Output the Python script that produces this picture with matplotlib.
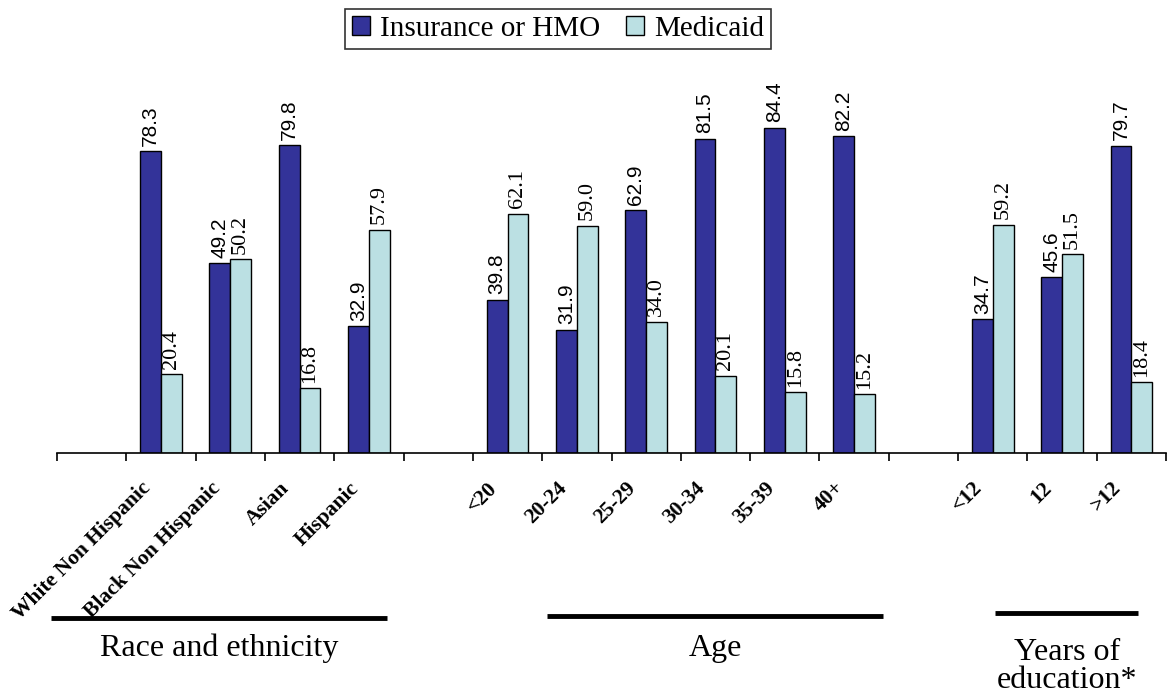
import matplotlib
matplotlib.use("Agg")
import matplotlib.pyplot as plt
import matplotlib.transforms as mtransforms
import numpy as np

# data (empty strings / None are the gaps between groups)
categories = ['', 'White Non Hispanic', 'Black Non Hispanic', 'Asian', 'Hispanic',
              '', '<20', '20-24', '25-29', '30-34', '35-39', '40+',
              '', '<12', '12', '>12']
insurance = [None, 78.3, 49.2, 79.8, 32.9, None, 39.8, 31.9, 62.9, 81.5, 84.4, 82.2,
             None, 34.7, 45.6, 79.7]
medicaid = [None, 20.4, 50.2, 16.8, 57.9, None, 62.1, 59.0, 34.0, 20.1, 15.8, 15.2,
            None, 59.2, 51.5, 18.4]
series_names = ['Insurance or HMO', 'Medicaid']
group_names = ['Race and ethnicity', 'Age', 'Years of\neducation*']

SERIF = 'Liberation Serif'
SANS = 'Liberation Sans'
dark = '#333399'
light = '#BBE0E3'

fig = plt.figure(figsize=(11.74, 6.94), dpi=100)
ax = fig.add_axes([57 / 1174, 1 - 453 / 694, 1109 / 1174, 347 / 694])

n = len(categories)
centers = np.arange(n) + 0.5
w = 0.3
idx = [i for i in range(n) if insurance[i] is not None]
ins_vals = [insurance[i] for i in idx]
med_vals = [medicaid[i] for i in idx]
xc = centers[idx]

b1 = ax.bar(xc - w / 2, ins_vals, w, color=dark, edgecolor='black', linewidth=1,
            label=series_names[0])
b2 = ax.bar(xc + w / 2, med_vals, w, color=light, edgecolor='black', linewidth=1,
            label=series_names[1])

# value labels
for x, v in zip(xc - w / 2, ins_vals):
    ax.annotate(f'{v:.1f}', (x, v), xytext=(0, 4), textcoords='offset points',
                rotation=90, ha='center', va='bottom', fontsize=15, family=SANS)
for x, v in zip(xc + w / 2, med_vals):
    ax.annotate(f'{v:.1f}', (x, v), xytext=(0, 4), textcoords='offset points',
                rotation=90, ha='center', va='bottom', fontsize=16, family=SERIF)

ax.set_xlim(0, n)
ax.set_ylim(0, 90)
for s in ['left', 'right', 'top']:
    ax.spines[s].set_visible(False)
ax.spines['bottom'].set_linewidth(1.2)
ax.set_yticks([])

# slot boundaries as minor ticks, labels at slot centres
ax.set_xticks(np.arange(n + 1), minor=True)
ax.tick_params(axis='x', which='minor', length=6, width=1.2, direction='out')
ax.set_xticks(centers)
ax.set_xticklabels(categories, rotation=45, ha='right', fontsize=15.5,
                   family=SERIF, fontweight='bold')
ax.tick_params(axis='x', which='major', length=0, pad=18)
shift = mtransforms.ScaledTranslation(-6 / 100, 0, fig.dpi_scale_trans)
for lbl in ax.get_xticklabels():
    lbl.set_transform(lbl.get_transform() + shift)

# group underlines and names
trans = mtransforms.blended_transform_factory(ax.transData, fig.transFigure)
group_lines = [(-0.09, 4.76, 0.1095), (7.07, 11.92, 0.112), (13.54, 15.6, 0.116)]
group_text_y = [0.066, 0.066, 0.040]
for (x0, x1, y), name, ty in zip(group_lines, group_names, group_text_y):
    ax.plot([x0, x1], [y, y], color='black', linewidth=3.5, transform=trans,
            clip_on=False, solid_capstyle='butt')
    ax.text((x0 + x1) / 2, ty, name, transform=trans, ha='center', va='center',
            fontsize=23, family=SERIF, linespacing=0.95)

leg = fig.legend(handles=[b1, b2], loc='center', bbox_to_anchor=(558 / 1174, 1 - 29 / 694),
                 ncol=2, frameon=True, fancybox=False, edgecolor='black',
                 prop={'family': SERIF, 'size': 21}, handlelength=0.6, handleheight=0.6,
                 handletextpad=0.35, columnspacing=0.9, borderpad=0.25, borderaxespad=0)
leg.get_frame().set_linewidth(1.2)

fig.savefig('out.png', dpi=100)
